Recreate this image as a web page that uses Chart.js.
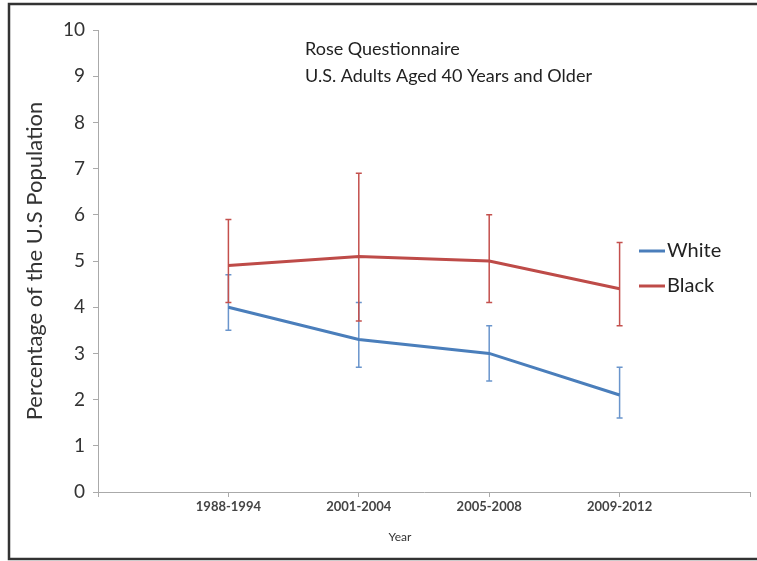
<!DOCTYPE html>
<html>
<head>
<meta charset="utf-8">
<script src="https://cdn.jsdelivr.net/npm/chart.js@4/dist/chart.umd.min.js"></script>
<style>
  body { margin: 0; background: #fff; }
</style>
</head>
<body>
<canvas id="roseChart" width="757" height="561"></canvas>
<script>
// 数据
const years = ['1988-1994', '2001-2004', '2005-2008', '2009-2012'];
const whiteVals = [4.0, 3.3, 3.0, 2.1];
const whiteLow = [3.5, 2.7, 2.4, 1.6];
const whiteHigh = [4.7, 4.1, 3.6, 2.7];
const blackVals = [4.9, 5.1, 5.0, 4.4];
const blackLow = [4.1, 3.7, 4.1, 3.6];
const blackHigh = [5.9, 6.9, 6.0, 5.4];
const titleLines = ['Rose Questionnaire', 'U.S. Adults Aged 40 Years and Older'];

const FONT = 'Lato, "DejaVu Sans", sans-serif';
const blue = '#4a7ebb';
const red = '#be4b48';

// 两端留空的类别轴
const labels = [''].concat(years, ['']);
const pad = arr => [null].concat(arr, [null]);

// 误差线
const errorBars = {
    id: 'errorBars',
    beforeDatasetsDraw(chart) {
        const ctx = chart.ctx;
        const y = chart.scales.y;
        chart.data.datasets.forEach((ds, di) => {
            const meta = chart.getDatasetMeta(di);
            ctx.save();
            ctx.strokeStyle = ds.errColor;
            ctx.lineWidth = 1.5;
            ds.low.forEach((lo, i) => {
                const pt = meta.data[i + 1];
                const y1 = y.getPixelForValue(lo);
                const y2 = y.getPixelForValue(ds.high[i]);
                ctx.beginPath();
                ctx.moveTo(pt.x, y1);
                ctx.lineTo(pt.x, y2);
                ctx.moveTo(pt.x - 3, y1);
                ctx.lineTo(pt.x + 3, y1);
                ctx.moveTo(pt.x - 3, y2);
                ctx.lineTo(pt.x + 3, y2);
                ctx.stroke();
            });
            ctx.restore();
        });
    }
};

// 标题、图例、x轴标题和外框
const decorations = {
    id: 'decorations',
    afterDraw(chart) {
        const ctx = chart.ctx;
        ctx.save();
        ctx.fillStyle = '#222';
        ctx.font = '18px ' + FONT;
        ctx.textBaseline = 'middle';
        ctx.textAlign = 'left';
        ctx.fillText(titleLines[0], 305, 49);
        ctx.fillText(titleLines[1], 305, 76);

        ctx.font = '20px ' + FONT;
        chart.data.datasets.forEach((ds, i) => {
            const ly = 251 + i * 35;
            ctx.strokeStyle = ds.borderColor;
            ctx.lineWidth = 3;
            ctx.beginPath();
            ctx.moveTo(639, ly);
            ctx.lineTo(665, ly);
            ctx.stroke();
            ctx.fillText(ds.label, 667, ly);
        });

        ctx.fillStyle = '#333';
        ctx.font = '12px ' + FONT;
        ctx.textAlign = 'center';
        ctx.fillText('Year', 400, 537);

        ctx.strokeStyle = '#333';
        ctx.lineWidth = 2.5;
        ctx.strokeRect(9, 4, 760, 555);
        ctx.restore();
    }
};

const ctx = document.getElementById('roseChart').getContext('2d');
const roseChart = new Chart(ctx, {
    type: 'line',
    data: {
        labels: labels,
        datasets: [{
            label: 'White',
            data: pad(whiteVals),
            low: whiteLow,
            high: whiteHigh,
            borderColor: blue,
            errColor: '#6a95cc',
            borderWidth: 3,
            pointRadius: 0
        }, {
            label: 'Black',
            data: pad(blackVals),
            low: blackLow,
            high: blackHigh,
            borderColor: red,
            errColor: '#c4504d',
            borderWidth: 3,
            pointRadius: 0
        }]
    },
    options: {
        responsive: false,
        animation: false,
        layout: { padding: { top: 30, right: 7, left: 0, bottom: 0 } },
        plugins: {
            legend: { display: false },
            tooltip: { enabled: false }
        },
        scales: {
            x: {
                offset: false,
                grid: { drawOnChartArea: false, tickLength: 5, color: '#aaa' },
                border: { color: '#aaa' },
                ticks: {
                    color: '#444',
                    font: { family: FONT, size: 13, weight: 'bold' },
                    padding: 2,
                    maxRotation: 0,
                    autoSkip: false
                },
                afterFit(scale) { scale.height = 69; }
            },
            y: {
                min: 0,
                max: 10,
                grid: { drawOnChartArea: false, tickLength: 5, color: '#aaa' },
                border: { color: '#aaa' },
                ticks: {
                    stepSize: 1,
                    color: '#333',
                    font: { family: FONT, size: 19 },
                    padding: 8
                },
                title: {
                    display: true,
                    text: 'Percentage of the U.S Population',
                    color: '#333',
                    font: { family: FONT, size: 22 },
                    padding: { top: 22, bottom: 0 }
                },
                afterFit(scale) { scale.width = 98; }
            }
        }
    },
    plugins: [errorBars, decorations]
});
</script>
</body>
</html>
